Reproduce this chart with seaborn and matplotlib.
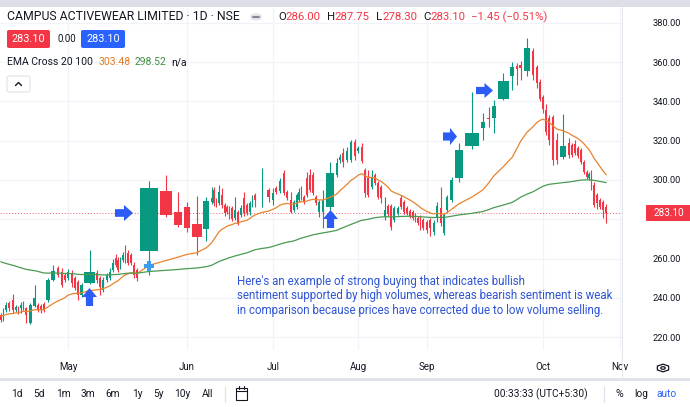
import matplotlib
matplotlib.use('Agg')
import matplotlib.pyplot as plt
from matplotlib.patches import FancyBboxPatch, Polygon, Rectangle, Circle, RegularPolygon
from matplotlib.lines import Line2D
import seaborn as sns
import pandas as pd
import numpy as np

# --- daily candles ---
opens = [
    231.2, 230.2, 233.7, 237.3, 238.8, 233.7, 235.3, 234.7, 235.3, 234.7,
    227.1, 235.8, 236.3, 235.8, 236.8, 238.8, 249.0, 255.2, 253.1, 251.6,
    250.0, 252.6, 250.0, 248.0, 241.4, 247.5, 252.6, 250.0, 243.9, 249.0,
    250.0, 254.1, 260.2, 259.2, 255.7, 259.2, 265.8, 262.8, 261.8, 256.7,
    254.1, 263.8, 294.4, 283.7, 286.2, 277.6, 275.0, 288.8, 294.9, 289.8,
    288.3, 292.3, 287.3, 286.2, 285.7, 285.7, 280.6, 283.7, 282.2, 290.8,
    287.3, 283.7, 287.3, 292.3, 295.2, 294.9, 289.8, 295.9, 294.4, 303.6,
    293.9, 289.8, 284.7, 286.2, 289.8, 295.9, 291.3, 301.0, 302.5, 302.5,
    291.3, 283.7, 283.7, 286.2, 302.5, 310.2, 313.7, 310.2, 310.2, 319.4,
    314.7, 316.8, 305.1, 301.0, 296.4, 302.5, 298.4, 296.4, 281.1, 286.7,
    286.7, 279.6, 283.2, 290.8, 288.8, 285.7, 284.2, 283.7, 282.2, 280.6,
    281.1, 279.6, 278.6, 279.6, 273.5, 281.1, 285.7, 273.0, 284.7, 289.8,
    301.0, 317.3, 326.5, 331.8, 331.6, 341.3, 353.0, 358.1, 358.6, 355.5,
    365.7, 357.6, 350.0, 342.3, 335.7, 331.6, 332.1, 320.4, 311.7, 318.8,
    317.8, 318.3, 316.3, 315.3, 309.2, 304.1, 301.0, 303.5, 297.4, 292.3,
    289.8, 288.8, 286.0]
highs = [
    232.0, 234.7, 237.8, 238.3, 241.9, 236.5, 236.0, 237.8, 238.3, 235.3,
    237.3, 246.5, 237.5, 236.8, 237.8, 250.0, 256.7, 256.2, 255.2, 252.5,
    254.5, 254.1, 251.0, 249.0, 247.5, 264.3, 254.1, 251.0, 250.5, 252.5,
    255.2, 259.7, 262.3, 260.7, 260.7, 263.3, 266.9, 264.3, 262.8, 258.2,
    255.2, 299.5, 302.5, 293.9, 288.7, 291.8, 291.3, 296.4, 296.4, 290.8,
    297.4, 295.9, 288.3, 287.2, 286.7, 286.7, 291.3, 284.7, 287.3, 293.9,
    288.3, 289.3, 292.3, 293.4, 306.1, 295.9, 295.9, 296.9, 301.0, 305.1,
    294.9, 294.0, 289.8, 293.4, 295.9, 296.9, 292.3, 304.1, 305.6, 304.1,
    292.3, 289.8, 294.9, 309.2, 311.2, 313.2, 316.3, 316.8, 320.4, 320.9,
    317.3, 318.8, 306.1, 305.1, 305.1, 303.5, 299.4, 297.4, 291.3, 287.7,
    287.7, 286.7, 286.7, 292.3, 289.8, 286.7, 285.2, 284.7, 283.2, 281.6,
    282.1, 280.6, 279.6, 280.6, 279.6, 288.8, 296.4, 283.2, 292.3, 301.5,
    318.8, 344.8, 334.1, 337.2, 340.8, 354.5, 360.1, 359.6, 360.6, 372.4,
    367.3, 358.6, 351.5, 343.5, 338.5, 333.1, 333.1, 323.9, 333.6, 321.3,
    318.8, 320.4, 317.3, 316.3, 310.2, 305.1, 304.0, 305.1, 298.9, 293.3,
    290.8, 289.8, 287.75]
lows = [
    227.7, 228.1, 232.7, 233.5, 232.2, 232.8, 231.5, 232.2, 234.0, 227.1,
    226.6, 235.3, 232.8, 232.5, 232.8, 237.8, 248.5, 250.6, 245.5, 248.0,
    249.0, 245.5, 244.0, 238.8, 240.4, 247.0, 247.5, 241.4, 243.0, 248.0,
    249.0, 253.0, 255.7, 253.1, 254.6, 258.2, 257.7, 256.7, 256.7, 250.0,
    248.5, 251.6, 281.1, 276.0, 273.5, 261.8, 268.9, 287.8, 286.7, 286.2,
    287.3, 285.7, 281.6, 282.7, 280.1, 279.1, 279.6, 277.1, 281.2, 281.6,
    282.2, 282.2, 286.3, 286.2, 286.2, 288.8, 287.3, 292.9, 293.4, 292.4,
    289.8, 283.2, 283.7, 285.2, 288.8, 289.8, 287.8, 291.4, 293.9, 292.4,
    287.3, 281.1, 275.5, 284.7, 301.5, 308.7, 306.6, 309.2, 309.2, 310.2,
    313.7, 308.7, 291.3, 291.4, 295.4, 297.4, 290.3, 288.3, 279.6, 281.7,
    274.5, 278.6, 282.2, 285.2, 282.7, 282.2, 280.7, 279.6, 278.6, 277.1,
    274.5, 274.5, 273.0, 271.5, 272.0, 278.6, 276.5, 272.0, 283.7, 288.8,
    299.0, 316.0, 320.4, 327.0, 323.9, 340.5, 345.9, 348.4, 351.0, 353.0,
    351.0, 347.0, 340.0, 334.0, 323.0, 318.0, 307.6, 308.0, 310.7, 311.2,
    311.7, 312.7, 311.2, 308.2, 303.1, 300.5, 300.0, 294.9, 286.3, 285.3,
    285.2, 280.6, 278.3]
closes = [
    228.6, 232.7, 236.3, 234.8, 233.7, 235.3, 232.7, 236.3, 237.3, 231.2,
    236.3, 239.9, 233.7, 233.7, 233.7, 249.0, 253.6, 251.6, 246.5, 249.0,
    253.1, 247.5, 245.0, 241.4, 246.5, 253.1, 249.0, 245.5, 249.0, 251.6,
    253.1, 257.7, 256.7, 254.1, 259.2, 261.8, 259.2, 257.7, 257.7, 251.6,
    250.0, 295.9, 282.2, 277.1, 275.5, 271.0, 289.3, 290.8, 288.3, 287.3,
    293.9, 287.3, 283.2, 283.7, 281.1, 280.1, 284.7, 278.1, 285.7, 283.2,
    283.2, 288.3, 290.8, 289.8, 295.6, 291.3, 293.4, 293.9, 299.5, 293.4,
    290.8, 283.7, 288.8, 292.3, 293.9, 290.8, 288.8, 292.4, 294.9, 293.4,
    288.3, 288.8, 289.8, 303.6, 308.7, 311.7, 309.2, 314.7, 319.4, 312.2,
    316.3, 309.7, 293.4, 292.4, 301.5, 298.4, 291.3, 290.8, 284.7, 282.7,
    276.0, 285.7, 285.7, 286.2, 283.7, 283.2, 281.7, 280.6, 279.6, 278.1,
    276.0, 275.5, 274.5, 275.5, 278.1, 286.7, 278.1, 282.2, 291.3, 300.0,
    315.3, 324.0, 329.6, 331.2, 337.7, 350.4, 357.6, 356.6, 357.1, 367.3,
    353.5, 349.4, 341.3, 336.2, 324.5, 320.4, 310.2, 310.2, 317.3, 312.7,
    312.7, 313.7, 312.2, 309.2, 304.1, 301.5, 303.0, 295.9, 287.3, 288.3,
    286.2, 284.55, 283.1]
# relative volume of each session (candle width, equivolume style)
volumes = [
    2.5, 2.5, 3, 3.5, 3.5, 2.5, 2.5, 2.5, 2.5, 3.5,
    4.5, 4, 3, 2.5, 3, 5.5, 5.5, 4, 3.5, 3,
    3.5, 3.5, 3, 3, 4, 12, 3, 3, 3.5, 3.5,
    3, 3, 2.5, 2, 2.5, 2.5, 2.5, 3, 3, 3,
    3.5, 20, 14, 10, 8, 11.5, 7.5, 3, 2, 2.5,
    3, 3, 2.5, 2, 2.5, 3, 2.5, 3, 3.5, 3,
    3, 2.5, 2.5, 3, 10, 4.5, 3.5, 3.5, 4, 3.5,
    3.5, 3.5, 3, 2.5, 2, 2.5, 3, 3, 3, 3,
    3, 3.5, 4, 10, 3.5, 3, 3.5, 4, 4, 3.5,
    3.5, 3.5, 3, 3.5, 3, 3, 3.5, 3.5, 3.5, 3,
    3, 3.5, 3.5, 3, 3, 3, 3, 2.5, 2.5, 2.5,
    2.5, 3.5, 3.5, 3.5, 3.5, 3.5, 3.5, 3, 3.5, 5,
    10, 16, 6, 5, 6, 12.5, 5.5, 3.5, 4.5, 8,
    4, 3.5, 3, 3, 3, 3.5, 4, 4, 8, 3,
    3.5, 3, 3, 3, 3, 2.5, 2, 2.5, 3, 3,
    3, 3, 3.5]

month_labels = ['May', 'Jun', 'Jul', 'Aug', 'Sep', 'Oct', 'Nov']
month_first_bar = [20, 44, 66, 90, 112, 133]
ema_fast_seed = 231.0
ema_slow_seed = 259.0
last_close = 283.10
marker_price = 256.2
price_ticks = [220, 240, 260, 280, 300, 320, 340, 360, 380]

W, H = 690, 407
GREEN, RED = '#089981', '#f23645'
TXT = '#131722'
BLUE = '#2d5bf5'

sns.set_theme(style='white')
plt.rcParams['font.family'] = ['Roboto', 'DejaVu Sans']

vol = np.array(volumes, dtype=float)
right = -0.5 + np.cumsum(vol)
centers = right - vol / 2
body_w = np.maximum(vol - 1.2, 1.2)
o, c = np.array(opens), np.array(closes)
cols = [GREEN if cc >= oo else RED for oo, cc in zip(o, c)]

df = pd.DataFrame({'x': centers, 'close': closes})
df['ema20'] = pd.concat([pd.Series([ema_fast_seed]), df['close']]).ewm(span=20, adjust=False).mean().iloc[1:].values
df['ema100'] = pd.concat([pd.Series([ema_slow_seed]), df['close']]).ewm(span=100, adjust=False).mean().iloc[1:].values

fig = plt.figure(figsize=(W / 100, H / 100), dpi=100)
fig.patch.set_facecolor('white')
ax = fig.add_axes([0, 57 / H, 622 / W, 342 / H])
ax.set_facecolor('white')
ax.set_xlim(0, 622)
ax.set_ylim(213.4, 387.6)

# grid
month_pos = list(centers[month_first_bar]) + [right[-1] + 12]
ax.set_xticks(month_pos)
ax.set_xticklabels(month_labels)
ax.set_yticks(price_ticks)
# the 280.00 label sits under the last-price tag, as in the original
ax.set_yticklabels(['' if abs(v - last_close) < 8 else f'{v:.2f}' for v in price_ticks])
ax.yaxis.tick_right()
ax.grid(True, color='#f0f3fa', linewidth=0.9)
ax.tick_params(axis='y', length=0, pad=22.3, labelsize=6.7, labelcolor=TXT)
ax.tick_params(axis='x', length=0, pad=9.0, labelsize=7, labelcolor=TXT)
for sp in ax.spines.values():
    sp.set_visible(False)

# candles
ax.vlines(centers, lows, highs, colors=cols, linewidth=0.8, zorder=2)
ax.bar(centers, np.maximum(np.abs(c - o), 0.35), bottom=np.minimum(o, c),
       width=body_w, color=cols, linewidth=0, zorder=3)

# EMA cross
sns.lineplot(data=df, x='x', y='ema20', ax=ax, color='#e8842c', linewidth=0.9, zorder=4)
sns.lineplot(data=df, x='x', y='ema100', ax=ax, color='#4a9a52', linewidth=0.9, zorder=4)
ax.set_xlabel('')
ax.set_ylabel('')

ax.axhline(last_close, color=RED, linestyle=(0, (1, 2)), linewidth=0.7, alpha=0.8, zorder=1)
ax.plot([centers[41]], [marker_price], marker='P', markersize=7, color='#3d9bf0',
        markeredgewidth=0, zorder=6)


def fx(x):
    return x / W


def fy(y):
    return 1 - y / H


def ftext(x, y, s, **kw):
    kw.setdefault('va', 'center')
    kw.setdefault('color', TXT)
    kw.setdefault('zorder', 8)
    return fig.text(fx(x), fy(y), s, **kw)


def chain(x, y, pieces, size):
    # write coloured pieces one after another on the same row
    for s, col, gap in pieces:
        t = ftext(x, y, s, size=size, color=col)
        x += t.get_window_extent(renderer=r).width + gap


def fbox(x0, y0, x1, y1, fc, ec='none', rad=2.5):
    fig.patches.append(FancyBboxPatch((fx(x0), fy(y1)), fx(x1 - x0), (y1 - y0) / H,
                                      boxstyle=f'round,pad=0,rounding_size={rad / W}',
                                      transform=fig.transFigure, facecolor=fc,
                                      edgecolor=ec, linewidth=0.8, zorder=5))


def fline(xs, ys, color, lw=1.0):
    fig.lines.append(Line2D([fx(v) for v in xs], [fy(v) for v in ys], color=color,
                            linewidth=lw, transform=fig.transFigure, zorder=6))


def arrow(x0, y0, x1, y1, direction):
    w, h = x1 - x0, y1 - y0
    if direction == 'right':
        yc, xm = (y0 + y1) / 2, x0 + 0.5 * w
        pts = [(x0, yc - h * 0.24), (xm, yc - h * 0.24), (xm, y0), (x1, yc),
               (xm, y1), (xm, yc + h * 0.24), (x0, yc + h * 0.24)]
    else:
        xc, ym = (x0 + x1) / 2, y0 + 0.5 * h
        pts = [(xc - w * 0.24, y1), (xc - w * 0.24, ym), (x0, ym), (xc, y0),
               (x1, ym), (xc + w * 0.24, ym), (xc + w * 0.24, y1)]
    fig.patches.append(Polygon([(fx(a), fy(b)) for a, b in pts], closed=True,
                               transform=fig.transFigure, facecolor=BLUE,
                               edgecolor='none', zorder=6))


# chrome: top strip, separators
fig.patches.append(Rectangle((0, fy(7)), 1, 7 / H, transform=fig.transFigure,
                             facecolor='#dcdfe6', edgecolor='none', zorder=5))
fline([622, 622], [7, 377], '#e6e8ee', 0.8)
fig.patches.append(Rectangle((0, fy(381)), 1, 3 / H, transform=fig.transFigure,
                             facecolor='#e0e3eb', edgecolor='none', zorder=5))

# header
r = fig.canvas.get_renderer()
ftext(7, 17, 'CAMPUS ACTIVEWEAR LIMITED · 1D · NSE', size=8.8)
fig.patches.append(Circle((fx(256), fy(17)), 6 / W, transform=fig.transFigure,
                          facecolor='#e0e3eb', edgecolor='none', zorder=5))
fline([253, 259], [17, 17], '#787b86', 1.3)
chain(278, 17, [('O', TXT, 0), ('286.00', RED, 6), ('H', TXT, 0), ('287.75', RED, 6),
                ('L', TXT, 0), ('278.30', RED, 6), ('C', TXT, 0), ('283.10', RED, 6),
                ('−1.45 (−0.51%)', RED, 0)], 8.2)

fbox(7, 30, 50, 48, RED)
ftext(28.5, 39, '283.10', size=7.8, color='white', ha='center')
ftext(58, 39, '0.00', size=6.9)
fbox(81, 30, 125, 48, '#2962ff')
ftext(103, 39, '283.10', size=7.8, color='white', ha='center')

chain(7, 62, [('EMA Cross 20 100', TXT, 6), ('303.48', '#e07b22', 4),
              ('298.52', '#3f8f45', 5), ('n/a', TXT, 0)], 7.5)
fbox(7, 76, 30, 92, 'white', ec='#e0e3eb')
fline([15.5, 18.5, 21.5], [85.5, 82.5, 85.5], TXT, 1.0)

# price label
fbox(646, 205, 692, 221, RED, rad=1)
ftext(669, 213, '283.10', size=7.2, color='white', ha='center')

# annotation
note = ("Here's an example of strong buying that indicates bullish\n"
        "sentiment supported by high volumes, whereas bearish sentiment is weak\n"
        "in comparison because prices have corrected due to low volume selling.")
ftext(237, 296, note, size=8.3, color='#2f55d4', linespacing=1.13)

arrow(115, 205, 133, 221, 'right')
arrow(443, 128, 457, 145, 'right')
arrow(476, 83, 493, 98, 'right')
arrow(82, 288, 97, 306, 'up')
arrow(323, 210, 338, 228, 'up')

# settings icon on time axis
fig.patches.append(RegularPolygon((fx(663), fy(368)), 6, radius=6.5 / W,
                                  transform=fig.transFigure, facecolor='none',
                                  edgecolor=TXT, linewidth=0.9, zorder=5))
fig.patches.append(Circle((fx(663), fy(368)), 2.2 / W, transform=fig.transFigure,
                          facecolor='none', edgecolor=TXT, linewidth=0.9, zorder=5))

# bottom toolbar
for s, xx in [('1d', 17), ('5d', 39), ('1m', 63), ('3m', 88), ('6m', 113), ('1y', 137),
              ('5y', 158), ('10y', 182), ('All', 208)]:
    ftext(xx, 394, s, size=7.3, ha='center')
fline([225, 225], [386, 402], '#e0e3eb', 0.9)
fline([604, 604], [386, 402], '#e0e3eb', 0.9)
fig.patches.append(Rectangle((fx(236), fy(400)), 11 / W, 12 / H, transform=fig.transFigure,
                             facecolor='none', edgecolor=TXT, linewidth=0.8, zorder=5))
fline([236, 247], [391, 391], TXT, 0.8)
fline([239, 239], [386, 389], TXT, 0.8)
fline([244, 244], [386, 389], TXT, 0.8)
ftext(541, 394, '00:33:33 (UTC+5:30)', size=7.3, ha='center')
ftext(619, 394, '%', size=7.6, ha='center')
ftext(641, 394, 'log', size=7.3, ha='center')
ftext(667, 394, 'auto', size=7.3, ha='center', color='#2962ff')

fig.savefig('out.png', dpi=100, facecolor='white')
